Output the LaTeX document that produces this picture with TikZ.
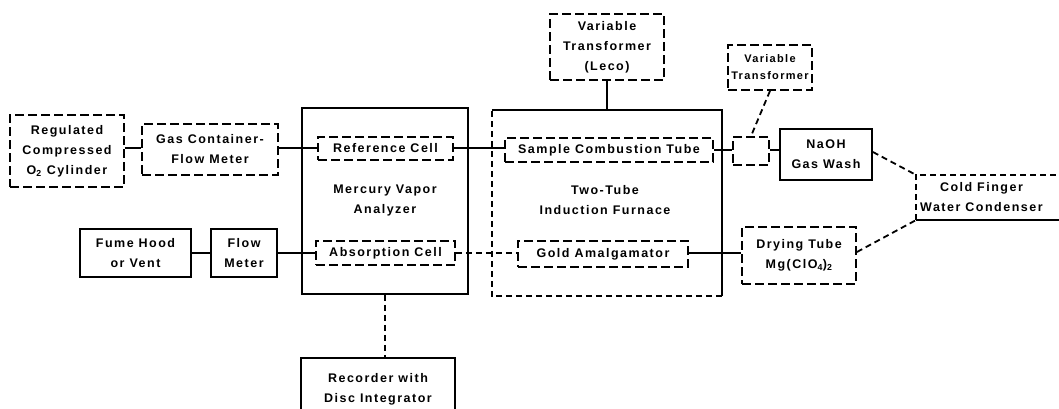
\documentclass[tikz,border=0pt]{standalone}
\usepackage{fontspec}
\setmainfont{Liberation Sans}[LetterSpace=12]
\begin{document}
\begin{tikzpicture}[x=1pt,y=-1pt,
  every node/.style={font=\fontsize{12.5}{20}\selectfont\bfseries, align=center, inner sep=0pt},
  sbox/.style={draw, line width=1.8pt},
  dbox/.style={draw, line width=1.8pt, dash pattern=on 9pt off 4pt},
  conn/.style={line width=1.8pt},
  dconn/.style={line width=1.8pt, dash pattern=on 6pt off 4pt}]
\useasboundingbox (0,0) rectangle (1059,408);
% left column
\node[dbox, minimum width=114, minimum height=72] (cyl) at (67,151) {Regulated\\Compressed\\O\textsubscript{2} Cylinder};
\node[dbox, minimum width=136, minimum height=51] (gfm) at (210,149.5) {Gas Container-\\Flow Meter};
\node[sbox, minimum width=111, minimum height=48] (fume) at (135.5,253) {Fume Hood\\or Vent};
\node[sbox, minimum width=66, minimum height=48] (flow) at (244,253) {Flow\\Meter};
% analyzer
\node[sbox, minimum width=166, minimum height=186] (ana) at (385,201) {};
\node (anat) at (385,200) {\fontsize{12.5}{30}\selectfont Mercury Vapor\\Analyzer};
\node[dbox, minimum width=135, minimum height=23] (ref) at (385.5,148.5) {Reference Cell};
\node[dbox, minimum width=139, minimum height=24] (abs) at (385.5,253) {Absorption Cell};
\node[sbox, minimum width=154, minimum height=62] (rec) at (378,389) {};
\node (rect) at (378,389) {Recorder with\\Disc Integrator};
% furnace
\node[minimum width=230, minimum height=186] (furn) at (607,203) {};
\draw[conn] (furn.north west) -- (furn.north east) -- (furn.south east);
\draw[dconn] (furn.south east) -- (furn.south west) -- (furn.north west);
\node (furnt) at (605,200) {\fontsize{12.5}{30}\selectfont Two-Tube\\Induction Furnace};
\node[dbox, minimum width=208, minimum height=24] (sct) at (609,150) {Sample Combustion Tube};
\node[dbox, minimum width=170, minimum height=26] (gold) at (603,254) {Gold Amalgamator};
\node[dbox, minimum width=114, minimum height=66] (vt1) at (607,47) {Variable\\Transformer\\(Leco)};
% right side
\node[dbox, minimum width=84, minimum height=45, font=\fontsize{11}{17}\selectfont\bfseries] (vt2) at (770,67.5) {Variable\\Transformer};
\node[dbox, minimum width=36, minimum height=28] (heat) at (751,151) {};
\node[sbox, minimum width=92, minimum height=51] (naoh) at (826,154.5) {NaOH\\Gas Wash};
\node[minimum width=160, minimum height=45] (cold) at (996,197.5) {};
\node[anchor=west] (coldt) at (920,197.5) {Cold Finger\\Water Condenser};
\draw[dconn] (cold.south west) -- (cold.north west) -- (cold.north east);
\draw[conn] (cold.south west) -- (cold.south east);
\node[dbox, minimum width=114, minimum height=57] (dry) at (799,255.5) {Drying Tube\\Mg(ClO\textsubscript{4})\textsubscript{2}};
% connectors
\draw[conn] (cyl.east |- 0,148) -- (gfm.west |- 0,148);
\draw[conn] (gfm.east |- 0,148) -- (ref.west |- 0,148);
\draw[conn] (ref.east |- 0,148) -- (sct.west |- 0,148);
\draw[conn] (sct.east |- 0,150) -- (heat.west |- 0,150);
\draw[conn] (heat.east |- 0,150) -- (naoh.west |- 0,150);
\draw[conn] (fume.east) -- (flow.west);
\draw[conn] (flow.east) -- (abs.west);
\draw[dconn] (abs.east) -- (gold.west |- abs.east);
\draw[conn] (gold.east |- 0,253) -- (dry.west |- 0,253);
\draw[conn] (vt1.south) -- (furn.north);
\draw[dconn] (vt2.south) -- (heat.north);
\draw[dconn] (ana.south) -- (ana.south |- rec.north);
\draw[dconn] (naoh.east |- 0,152) -- (cold.north west);
\draw[dconn] (dry.east |- 0,252) -- (cold.south west);
\end{tikzpicture}
\end{document}
